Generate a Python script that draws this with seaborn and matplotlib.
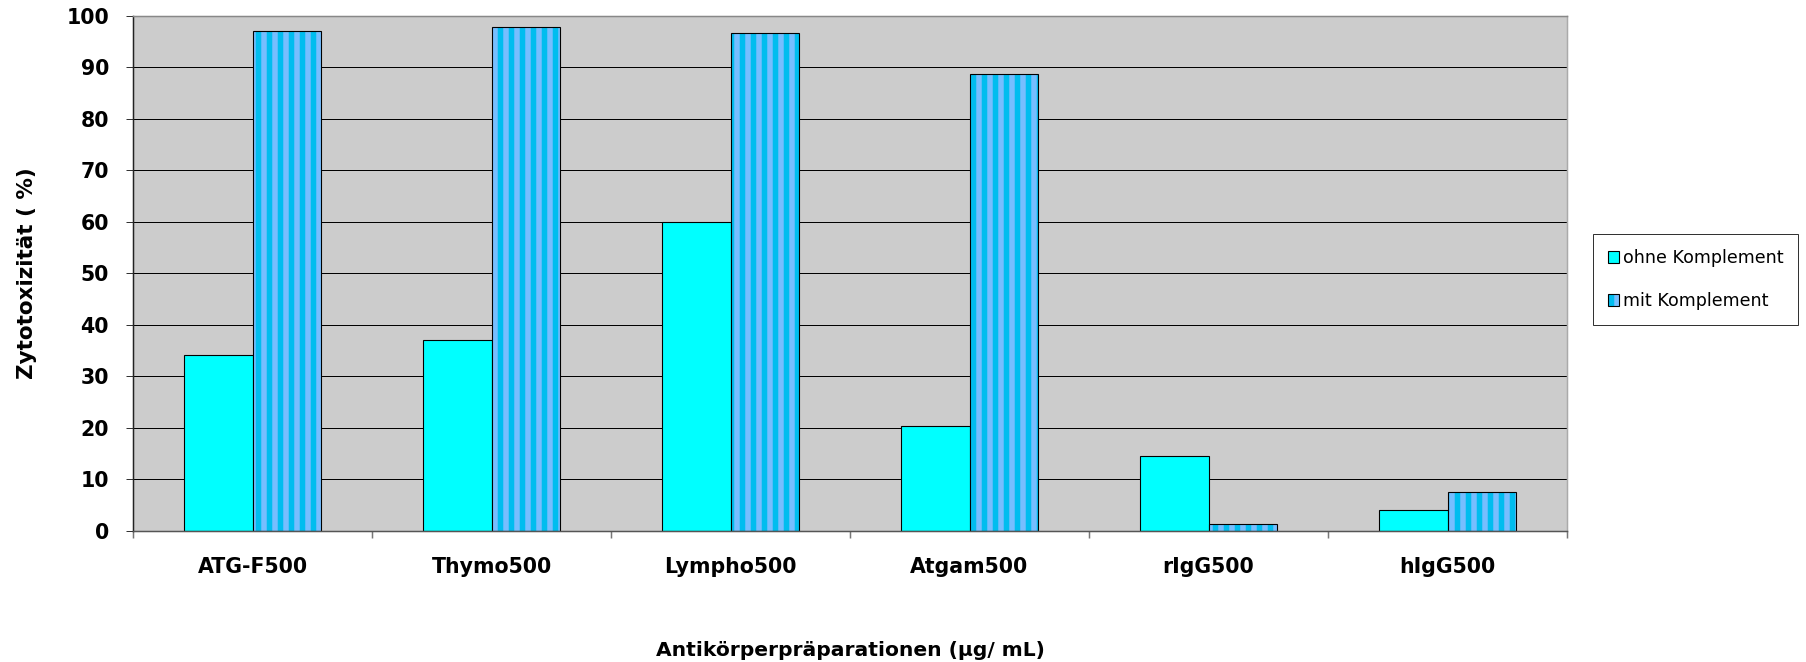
import numpy as np
import pandas as pd
import matplotlib
matplotlib.use("Agg")
import matplotlib.pyplot as plt
import seaborn as sns
from matplotlib.colors import to_rgba

# ---- data ----
categories = ["ATG-F500", "Thymo500", "Lympho500", "Atgam500", "rIgG500", "hIgG500"]
series_names = ["ohne Komplement", "mit Komplement"]
ohne_values = [34.2, 37.0, 60.0, 20.3, 14.6, 4.1]
mit_values = [97.0, 97.7, 96.6, 88.7, 1.3, 7.5]
y_ticks = [0, 10, 20, 30, 40, 50, 60, 70, 80, 90, 100]
x_label = "Antikörperpräparationen (µg/ mL)"
y_label = "Zytotoxizität ( %)"

df = pd.DataFrame({
    "Präparation": categories * 2,
    "Serie": [series_names[0]] * len(categories) + [series_names[1]] * len(categories),
    "Wert": ohne_values + mit_values,
})

DPI = 66
W, H = 1806, 662
PT = 72.0 / DPI  # points per pixel

sns.set_style("white")
plt.rcParams["font.family"] = ["DejaVu Sans"]
plt.rcParams["hatch.linewidth"] = 5.5 * PT
for k in ["text.color", "axes.labelcolor", "xtick.labelcolor", "ytick.labelcolor"]:
    plt.rcParams[k] = "black"

CYAN = "#00FFFF"
LIGHT = "#76BEFF"
DARK = "#00BDEF"

fig = plt.figure(figsize=(W / DPI, H / DPI), dpi=DPI)
ax = fig.add_axes([133 / W, 1 - 531 / H, (1567 - 133) / W, (531 - 15.5) / H])
ax.set_facecolor("#CCCCCC")

sns.barplot(data=df, x="Präparation", y="Wert", hue="Serie", order=categories,
            hue_order=series_names, palette=[CYAN, LIGHT], width=0.573, gap=0,
            saturation=1, edgecolor="black", linewidth=1.1 * PT,
            legend=False, errorbar=None, ax=ax)

# stripes on the "mit Komplement" bars
for p in ax.containers[1]:
    p.set_hatch("|")
    if hasattr(p, "set_hatchcolor"):
        p.set_hatchcolor(DARK)
    else:
        p._hatch_color = to_rgba(DARK)
    if hasattr(p, "set_hatch_linewidth"):
        p.set_hatch_linewidth(5.5 * PT)

ax.set_ylim(0, 100)
ax.set_xlim(-0.5, len(categories) - 0.5)
ax.set_yticks(y_ticks)
ax.set_yticklabels([str(v) for v in y_ticks])
ax.yaxis.grid(True, color="black", linewidth=1.0 * PT)
ax.set_axisbelow(True)

tick_fs = 20.5 * PT
ax.tick_params(axis="y", which="major", length=7 * PT, width=1 * PT, color="#333333",
               pad=17 * PT, labelsize=tick_fs, direction="out", left=True, labelcolor="black")
for t in ax.get_yticklabels():
    t.set_fontweight("bold")

ax.set_xticks(range(len(categories)))
ax.set_xticklabels(categories)
ax.set_xticks(np.arange(-0.5, len(categories), 1.0), minor=True)
ax.tick_params(axis="x", which="major", length=0, pad=26 * PT, labelsize=tick_fs, bottom=True,
               labelcolor="black")
ax.tick_params(axis="x", which="minor", length=7 * PT, width=1.5 * PT, color="#777777",
               bottom=True, direction="out")
for t in ax.get_xticklabels():
    t.set_fontweight("bold")

for side, col in [("left", "#222222"), ("bottom", "#555555"), ("top", "#888888"), ("right", "#AAAAAA")]:
    ax.spines[side].set_visible(True)
    ax.spines[side].set_color(col)
    ax.spines[side].set_linewidth(1.5 * PT)

ax.set_xlabel(x_label, fontsize=20.3 * PT, fontweight="bold", color="black")
ax.xaxis.set_label_coords(0.5, (531 - 641) / (531 - 15.5))
ax.set_ylabel(y_label, fontsize=21.5 * PT, fontweight="bold", color="black")
ax.yaxis.set_label_coords((37 - 133) / (1567 - 133), 0.5)

handles = [ax.containers[0][0], ax.containers[1][0]]
leg = fig.legend(handles, series_names, loc="upper left",
                 bbox_to_anchor=(1593 / W, 1 - 234 / H), borderaxespad=0,
                 fontsize=17.5 * PT, frameon=True, fancybox=False,
                 handlelength=0.65, handleheight=0.65, handletextpad=0.2,
                 borderpad=0.85, labelspacing=1.45)
leg.get_frame().set_edgecolor("black")
leg.get_frame().set_linewidth(1.0 * PT)
leg.get_frame().set_facecolor("white")
for t in leg.get_texts():
    t.set_color("black")

fig.savefig("out.png", dpi=DPI)
